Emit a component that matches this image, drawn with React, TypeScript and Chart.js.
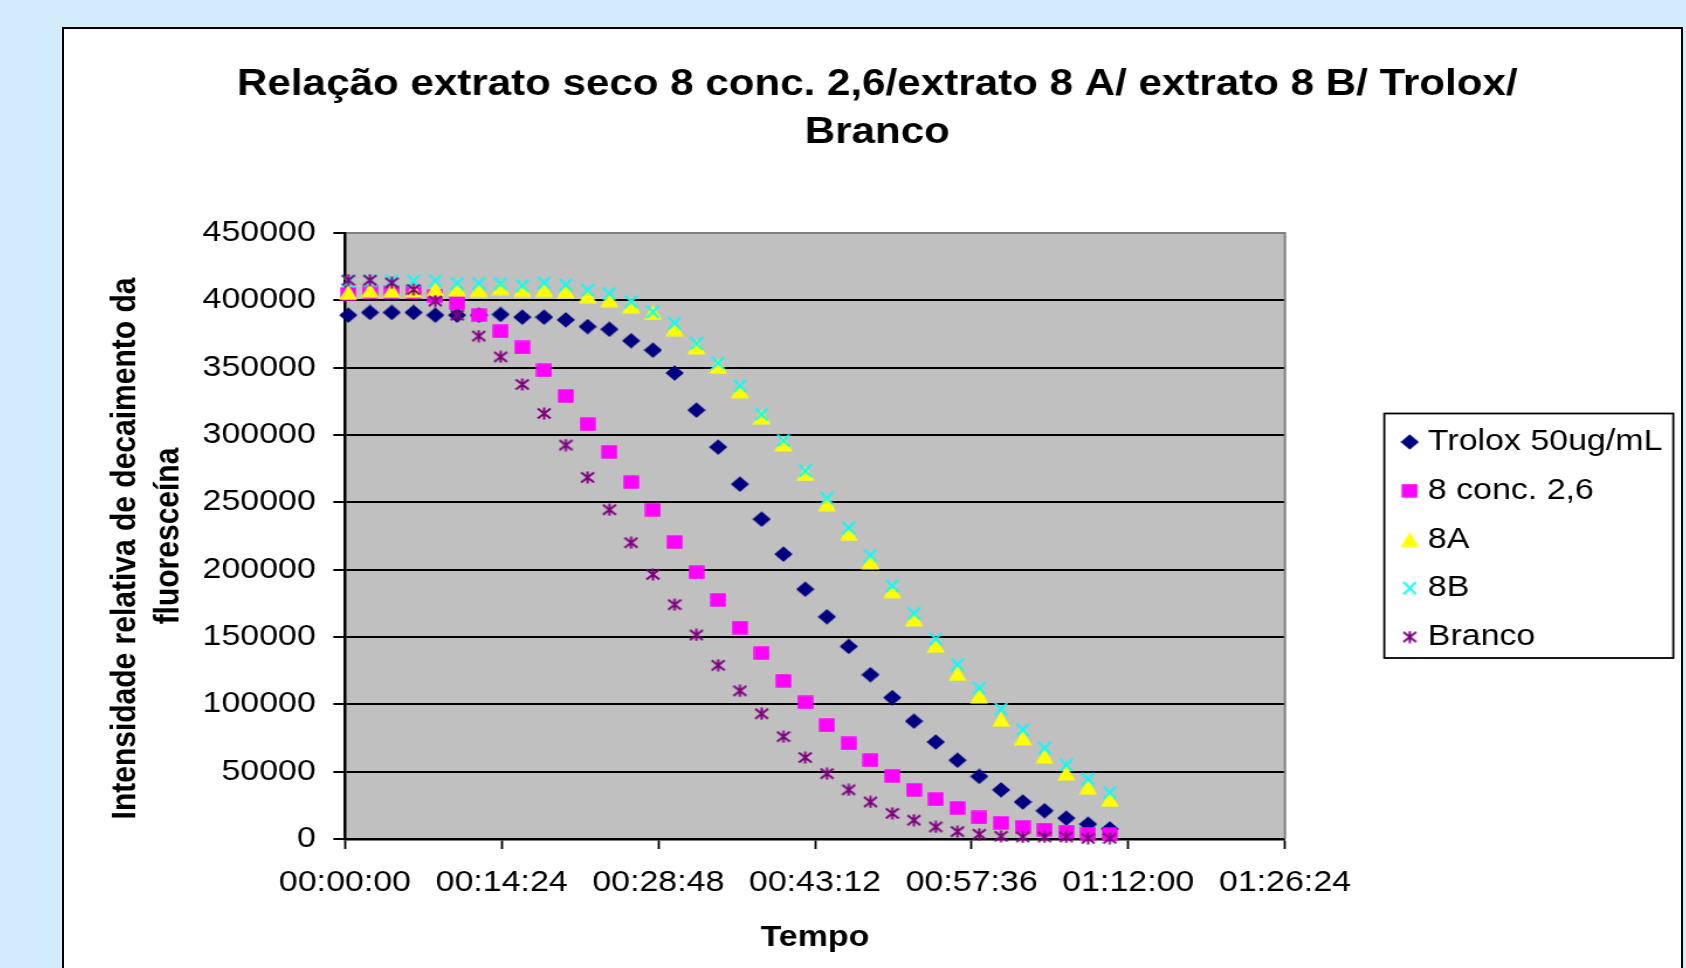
import React, { useEffect, useRef } from 'react';
import { Chart, registerables } from 'chart.js';

Chart.register(...registerables);

// Time of each reading, in seconds
const TIMES_S = [
  18, 138, 258, 378, 498, 618, 738, 858, 978, 1098, 1218, 1338,
  1458, 1578, 1698, 1818, 1938, 2058, 2178, 2298, 2418, 2538, 2658, 2778,
  2898, 3018, 3138, 3258, 3378, 3498, 3618, 3738, 3858, 3978, 4098, 4218,
];

const X_TICK_LABELS = ['00:00:00', '00:14:24', '00:28:48', '00:43:12', '00:57:36', '01:12:00', '01:26:24'];

const TROLOX = [
  389000, 391000, 391000, 391000, 389000, 389000, 389000, 389500, 387500, 387500, 385500, 380500,
  378500, 370000, 363000, 346000, 318500, 291000, 263500, 237500, 211500, 185500, 165000, 143000,
  122000, 105000, 87500, 72000, 58500, 46500, 36500, 27500, 21000, 15500, 11000, 7500,
];
const CONC_26 = [
  405000, 406000, 406000, 406000, 403000, 398000, 389000, 377000, 365000, 348000, 329000, 308000,
  287500, 265000, 244500, 220500, 198000, 177500, 157000, 138000, 117500, 101500, 84500, 71000,
  58500, 47000, 36500, 29500, 23000, 16000, 12000, 9000, 7000, 5500, 4000, 3500,
];
const EXT_8A = [
  406000, 407500, 407500, 407500, 408500, 408500, 408000, 409500, 408000, 408000, 407000, 403500,
  400500, 396000, 391000, 379000, 365500, 351000, 333000, 313500, 293500, 271500, 249000, 227000,
  206000, 184500, 163500, 144000, 123000, 106500, 89000, 75000, 61500, 49000, 38500, 29500,
];
const EXT_8B = [
  414000, 414500, 414500, 414500, 414500, 412500, 412500, 412500, 411000, 413000, 411500, 407500,
  405000, 399000, 391500, 383000, 368000, 353500, 336500, 315500, 296000, 273500, 253000, 231000,
  210500, 188000, 167500, 148500, 129500, 112000, 96500, 81000, 67500, 55000, 44500, 34500,
];
const BRANCO = [
  415000, 415000, 413000, 408000, 399500, 389000, 373500, 358000, 337500, 316000, 292500, 268500,
  244500, 220000, 196500, 174000, 151500, 129000, 110000, 93000, 76000, 60500, 48500, 36500,
  27500, 19000, 14000, 9000, 5500, 3500, 2000, 1500, 1500, 1500, 500, 500,
];

const SERIES_NAMES = ['Trolox 50ug/mL', '8 conc. 2,6', '8A', '8B', 'Branco'];
const SERIES_VALUES = [TROLOX, CONC_26, EXT_8A, EXT_8B, BRANCO];
const SERIES_COLORS = ['#000080', '#FF00FF', '#FFFF00', '#00FFFF', '#800080'];
const SERIES_MARKERS = ['diamond', 'square', 'triangle', 'x', 'star'];

const TITLE_LINES = ['Relação extrato seco 8 conc. 2,6/extrato 8 A/ extrato 8 B/ Trolox/', 'Branco'];
const Y_TITLE_LINES = ['Intensidade relativa de decaimento da   ', 'fluoresceína'];
const X_TITLE = 'Tempo';

const FONT = "'Liberation Sans', Arial, sans-serif";
const STRETCH = 1.17;
const CW = 1380;
const CH = 938;

function makeMarker(kind: string, color: string): HTMLCanvasElement {
  const c = document.createElement('canvas');
  let w = 16;
  let h = 16;
  if (kind === 'square') { w = 14; h = 14; }
  if (kind === 'x') { w = 12; h = 14; }
  if (kind === 'star') { w = 13; h = 13; }
  c.width = w;
  c.height = h;
  const g = c.getContext('2d') as CanvasRenderingContext2D;
  g.fillStyle = color;
  g.strokeStyle = color;
  g.lineWidth = 2;
  if (kind === 'diamond') {
    g.beginPath();
    g.moveTo(8, 0.2); g.lineTo(15.8, 8); g.lineTo(8, 15.8); g.lineTo(0.2, 8);
    g.closePath(); g.fill();
  } else if (kind === 'square') {
    g.fillRect(0.3, 0.3, 13.4, 13.4);
  } else if (kind === 'triangle') {
    g.beginPath();
    g.moveTo(8, 0.5); g.lineTo(15.75, 15.5); g.lineTo(0.25, 15.5);
    g.closePath(); g.fill();
  } else if (kind === 'x') {
    g.beginPath();
    g.moveTo(0.75, 0.85); g.lineTo(11.25, 13.15);
    g.moveTo(11.25, 0.85); g.lineTo(0.75, 13.15);
    g.stroke();
  } else {
    g.beginPath();
    g.moveTo(6.5, 0.5); g.lineTo(6.5, 12.5);
    g.moveTo(1, 1.5); g.lineTo(12, 11.5);
    g.moveTo(12, 1.5); g.lineTo(1, 11.5);
    g.stroke();
  }
  return c;
}

const decor = {
  id: 'decor',
  beforeDraw(chart: any) {
    const { ctx, chartArea: a } = chart;
    ctx.save();
    ctx.fillStyle = '#C0C0C0';
    ctx.fillRect(a.left, a.top, a.right - a.left, a.bottom - a.top);
    ctx.restore();
  },
  beforeDatasetsDraw(chart: any) {
    const { ctx, chartArea: a } = chart;
    ctx.save();
    ctx.strokeStyle = '#808080';
    ctx.lineWidth = 2;
    ctx.beginPath();
    ctx.moveTo(a.right, a.top - 1);
    ctx.lineTo(a.right, a.bottom);
    ctx.stroke();
    ctx.restore();
  },
  afterDraw(chart: any) {
    const legend = chart.legend;
    if (!legend || !legend.legendHitBoxes || !legend.legendHitBoxes.length) return;
    const hb = legend.legendHitBoxes;
    const ih = 29;
    const top = hb[0].top + ih / 2 - 28.5;
    const bottom = hb[hb.length - 1].top + ih / 2 + 21;
    const left = legend.left - 1;
    const right = legend.left + 246;
    const { ctx } = chart;
    ctx.save();
    ctx.strokeStyle = '#000';
    ctx.lineWidth = 1.8;
    ctx.strokeRect(left, top, right - left, bottom - top);
    ctx.restore();
  },
};

export default function App() {
  const ref = useRef<HTMLCanvasElement>(null);

  useEffect(() => {
    const canvas = ref.current;
    if (!canvas) return;
    const datasets = SERIES_NAMES.map((name, si) => ({
      label: name,
      data: TIMES_S.map((t, i) => ({ x: t, y: SERIES_VALUES[si][i] })),
      showLine: false,
      pointStyle: makeMarker(SERIES_MARKERS[si], SERIES_COLORS[si]) as any,
      pointRadius: 8,
      backgroundColor: SERIES_COLORS[si],
      borderColor: SERIES_COLORS[si],
      order: 5 - si,
      clip: false as any,
    }));

    const chart = new Chart(canvas, {
      type: 'scatter',
      data: { datasets },
      options: {
        animation: false,
        responsive: false,
        events: [],
        layout: { padding: { left: 20, right: 11.4, top: 0, bottom: 0 } },
        plugins: {
          title: {
            display: true,
            text: TITLE_LINES,
            color: '#000',
            font: { family: FONT, size: 36, weight: 'bold', lineHeight: 48 / 36 },
            padding: { top: 30.8, bottom: 76.2 },
          },
          legend: {
            position: 'right',
            fullSize: false,
            align: 'center',
            maxWidth: 240,
            title: { display: true, text: ' ', font: { size: 1, lineHeight: 1 }, padding: { top: 3, bottom: 3 } as any },
            labels: {
              usePointStyle: true,
              boxWidth: 2,
              padding: 19.75,
              color: '#000',
              font: { family: FONT, size: 29 },
              sort: (a: any, b: any) => a.datasetIndex - b.datasetIndex,
            },
          },
          tooltip: { enabled: false },
        },
        scales: {
          x: {
            type: 'linear',
            min: 0,
            max: 5184,
            afterFit: (s: any) => { s.height = 129; },
            ticks: {
              stepSize: 864,
              autoSkip: false,
              maxRotation: 0,
              minRotation: 0,
              padding: 17,
              color: '#000',
              font: { family: FONT, size: 29 },
              callback: (_v: any, i: number) => X_TICK_LABELS[i],
            },
            grid: {
              display: true,
              drawOnChartArea: false,
              drawTicks: true,
              tickLength: 10,
              tickColor: '#000',
              tickWidth: 1.8,
            },
            border: { display: true, color: '#000', width: 2.5 },
            title: {
              display: true,
              text: X_TITLE,
              color: '#000',
              font: { family: FONT, size: 29, weight: 'bold', lineHeight: 1.2 },
              padding: { top: 0, bottom: 13 },
            },
          },
          y: {
            type: 'linear',
            min: 0,
            max: 450000,
            afterFit: (s: any) => { s.width = 219.3; },
            ticks: {
              stepSize: 50000,
              padding: 15,
              color: '#000',
              font: { family: FONT, size: 29 },
              callback: (v: any) => String(v),
            },
            grid: {
              color: (c: any) => (c.tick && c.tick.value === 450000 ? '#808080' : '#000'),
              lineWidth: 2,
              drawTicks: true,
              tickLength: 10,
              tickColor: '#000',
              tickWidth: 2,
            },
            border: { display: true, color: '#000', width: 2.5 },
            title: {
              display: true,
              text: Y_TITLE_LINES,
              color: '#000',
              font: { family: FONT, size: 30, weight: 'bold', lineHeight: 1.223 },
              padding: { top: 13.65, bottom: 0 },
            },
          },
          yR: {
            type: 'linear',
            position: 'right',
            display: true,
            afterFit: (s: any) => { s.width = 85.9; },
            grid: { display: false },
            border: { display: false },
            ticks: { display: false },
          },
        },
      } as any,
      plugins: [decor],
    });
    return () => chart.destroy();
  }, []);

  return (
    <div style={{ position: 'fixed', left: 0, top: 0, width: 1686, height: 968, background: '#D2ECFC', overflow: 'hidden' }}>
      <div
        style={{
          position: 'absolute', left: 62, top: 27, width: 1621, height: 980,
          background: '#FFFFFF', border: '2px solid #000', boxSizing: 'border-box',
        }}
      />
      <canvas
        ref={ref}
        width={CW}
        height={CH}
        style={{ position: 'absolute', left: 65, top: 30, transform: `scaleX(${STRETCH})`, transformOrigin: '0 0' }}
      />
    </div>
  );
}
